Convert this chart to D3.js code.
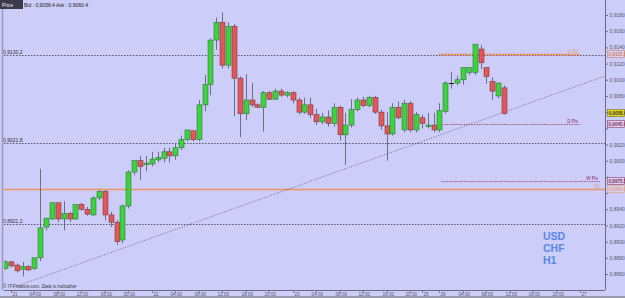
<!DOCTYPE html>
<html>
<head>
<meta charset="utf-8">
<script src="https://cdn.jsdelivr.net/npm/d3@7"></script>
<style>
  html, body { margin: 0; padding: 0; background: #cdcdf9; }
  svg { display: block; font-family: 'Liberation Sans', Arial, sans-serif; }
</style>
</head>
<body>
<svg id="chart" width="625" height="298"></svg>
<script>
// USDCHF H1 candles, bar 0 = 20th 23:00
const opens  = [0.8867,0.8875,0.8871,0.8866,0.8869,0.8867,0.8880,0.8918,0.8928,0.8948,0.8928,0.8935,0.8928,0.8946,0.8940,0.8933,0.8954,0.8962,0.8933,0.8924,0.8902,0.8944,0.8986,0.9000,0.8995,0.8996,0.9001,0.9003,0.9011,0.9006,0.9016,0.9026,0.9037,0.9026,0.9069,0.9094,0.9149,0.9171,0.9118,0.9166,0.9102,0.9058,0.9075,0.9069,0.9066,0.9084,0.9076,0.9086,0.9081,0.9084,0.9075,0.9060,0.9069,0.9057,0.9048,0.9054,0.9046,0.9066,0.9032,0.9044,0.9063,0.9075,0.9068,0.9078,0.9060,0.9043,0.9033,0.9066,0.9038,0.9071,0.9038,0.9053,0.9042,0.9044,0.9038,0.9061,0.9096,0.9096,0.9100,0.9109,0.9109,0.9138,0.9115,0.9098,0.9080,0.9090]
const highs  = [0.8877,0.8876,0.8873,0.8875,0.8871,0.8880,0.8990,0.8921,0.8935,0.8946,0.8950,0.8937,0.8944,0.8948,0.8943,0.8956,0.8964,0.8964,0.8937,0.8927,0.8946,0.8988,0.8997,0.9006,0.9006,0.9011,0.9011,0.9016,0.9016,0.9022,0.9031,0.9029,0.9031,0.9075,0.9106,0.9151,0.9177,0.9183,0.9171,0.9169,0.9104,0.9107,0.9096,0.9071,0.9086,0.9086,0.9089,0.9089,0.9086,0.9086,0.9078,0.9078,0.9078,0.9064,0.9059,0.9062,0.9071,0.9068,0.9059,0.9076,0.9078,0.9079,0.9080,0.9080,0.9063,0.9060,0.9071,0.9073,0.9075,0.9074,0.9060,0.9057,0.9059,0.9059,0.9071,0.9098,0.9110,0.9105,0.9112,0.9112,0.9141,0.9143,0.9112,0.9103,0.9093,0.9093]
const lows   = [0.8865,0.8868,0.8862,0.8857,0.8864,0.8865,0.8876,0.8914,0.8927,0.8924,0.8914,0.8924,0.8927,0.8938,0.8932,0.8932,0.8951,0.8926,0.8918,0.8896,0.8898,0.8941,0.8982,0.8976,0.8987,0.8993,0.8998,0.8998,0.8998,0.9001,0.9013,0.9024,0.9024,0.9024,0.9061,0.9081,0.9137,0.9114,0.9114,0.9055,0.9029,0.9050,0.9066,0.9066,0.9036,0.9075,0.9075,0.9079,0.9078,0.9071,0.9057,0.9058,0.9053,0.9044,0.9045,0.9042,0.9042,0.9025,0.8995,0.9041,0.9061,0.9066,0.9066,0.9058,0.9038,0.9000,0.9031,0.9051,0.9035,0.9035,0.9035,0.9040,0.9040,0.9035,0.9035,0.9058,0.9089,0.9093,0.9094,0.9106,0.9106,0.9113,0.9095,0.9075,0.9077,0.9057]
const closes = [0.8875,0.8870,0.8864,0.8869,0.8865,0.8880,0.8917,0.8929,0.8948,0.8928,0.8935,0.8928,0.8946,0.8940,0.8934,0.8954,0.8962,0.8933,0.8924,0.8900,0.8944,0.8986,0.9000,0.8993,0.8997,0.9002,0.9004,0.9011,0.9006,0.9016,0.9026,0.9038,0.9026,0.9069,0.9094,0.9149,0.9171,0.9118,0.9166,0.9102,0.9058,0.9075,0.9069,0.9066,0.9084,0.9076,0.9086,0.9081,0.9084,0.9075,0.9060,0.9069,0.9057,0.9048,0.9054,0.9046,0.9066,0.9032,0.9044,0.9063,0.9075,0.9068,0.9078,0.9060,0.9043,0.9033,0.9066,0.9053,0.9071,0.9038,0.9057,0.9046,0.9044,0.9038,0.9062,0.9096,0.9096,0.9100,0.9115,0.9115,0.9144,0.9121,0.9104,0.9086,0.9096,0.90584]

// right axis ticks
const priceTicks = d3.range(0.8860, 0.91801, 0.002)

// time axis: label and bar index (future bars continue the hourly spacing)
const timeLabels = ['21','04:00','08:00','12:00','16:00','20:00','22','04:00','08:00','12:00','16:00','20:00','23','04:00','08:00','12:00','16:00','20:00','25','26','04:00','08:00','12:00','16:00','20:00','27']
const timeBars   = [1,5,9,13,17,21,25,29,33,37,41,45,49,53,57,61,65,69,71,74,78,82,86,90,94,98]

// horizontal levels
const levelNames  = ['0,9130.2','0,9021.8','0,8921.2']
const levelPrices = [0.91302,0.90218,0.89212]
const pivotNames  = ['D Piv','W Piv']
const pivotPrices = [0.90454,0.89755]
const pivotStart  = [74,74]
const orangeNames  = ['D R2','S1']
const orangePrices = [0.91318,0.89650]
const orangeStart  = [74,0]

// trendline anchors (bar, price)
const trendBars   = [2,85]
const trendPrices = [0.88450,0.90600]

const bid = '0,9058.4'
const ask = '0,9060.4'

const W = 625, H = 298
const plotLeft = 4, plotRight = 605, plotTop = 0, plotBottom = 290

const svg = d3.select('#chart')

svg.append('rect')
  .attr('width', W).attr('height', H)
  .attr('fill', '#cdcdf9')

svg.append('rect')
  .attr('x', 0).attr('y', 296).attr('width', W).attr('height', 2)
  .attr('fill', '#9a9aae')

let x = d3.scaleLinear().domain([0, 85]).range([5, 504])
let y = d3.scaleLinear().domain([0.8860, 0.9180]).range([274, 15])

const fmt = v => d3.format('.4f')(v).replace('.', ',')
// price with pipette, e.g. 0,9045.4
const fmt5 = v => {
  let s = v.toFixed(5)
  return s.slice(0, 1) + ',' + s.slice(2, 6) + '.' + s.slice(6)
}

let plot = svg.append('g')
let clip = svg.append('clipPath').attr('id', 'plotclip')
clip.append('rect')
  .attr('x', plotLeft).attr('y', plotTop)
  .attr('width', plotRight - plotLeft).attr('height', plotBottom - plotTop)
plot.attr('clip-path', 'url(#plotclip)')

// dotted price levels across the chart
levelPrices.forEach((p, i) => {
  plot.append('line')
    .attr('x1', plotLeft).attr('x2', plotRight)
    .attr('y1', Math.round(y(p)) + 0.5).attr('y2', Math.round(y(p)) + 0.5)
    .attr('stroke', '#333348').attr('stroke-width', 0.8)
    .attr('stroke-dasharray', '1.5,1.5')
  svg.append('text')
    .attr('x', 3).attr('y', Math.round(y(p)) - 1.5)
    .attr('font-size', 5).attr('fill', '#333')
    .text(levelNames[i])
})

// orange levels
orangePrices.forEach((p, i) => {
  let xs = orangeStart[i] === 0 ? plotLeft : x(orangeStart[i]) - 1
  let xe = orangeStart[i] === 0 ? plotRight : 580
  plot.append('line')
    .attr('x1', xs).attr('x2', xe)
    .attr('y1', Math.round(y(p)) + 0.5).attr('y2', Math.round(y(p)) + 0.5)
    .attr('stroke', '#ee9460').attr('stroke-width', 1.4)
  svg.append('text')
    .attr('x', (orangeStart[i] === 0 ? 600 : 578)).attr('y', Math.round(y(p)) - 1.5)
    .attr('text-anchor', 'end')
    .attr('font-size', 4.5).attr('fill', '#e09a70')
    .text(orangeNames[i])
})

// pivot lines
pivotPrices.forEach((p, i) => {
  let xe = i === 0 ? 580 : 600
  plot.append('line')
    .attr('x1', x(pivotStart[i]) + 2).attr('x2', xe)
    .attr('y1', Math.round(y(p)) + 0.5).attr('y2', Math.round(y(p)) + 0.5)
    .attr('stroke', '#9a3a6a').attr('stroke-width', 0.8)
    .attr('stroke-dasharray', '1.5,1')
  svg.append('text')
    .attr('x', xe - 2).attr('y', Math.round(y(p)) - 1.5)
    .attr('text-anchor', 'end')
    .attr('font-size', 4.5).attr('fill', '#8a2a5a')
    .text(pivotNames[i])
})

// trendline
{
  let slope = (trendPrices[1] - trendPrices[0]) / (trendBars[1] - trendBars[0])
  let endBar = x.invert(plotRight)
  plot.append('line')
    .attr('x1', x(trendBars[0])).attr('y1', y(trendPrices[0]))
    .attr('x2', x(endBar)).attr('y2', y(trendPrices[0] + slope * (endBar - trendBars[0])))
    .attr('stroke', '#444466').attr('stroke-width', 0.7)
    .attr('stroke-dasharray', '1,1.5')
}

// candles
const bars = closes.map((c, i) => ({ i, o: opens[i], h: highs[i], l: lows[i], c }))
let candles = plot.append('g').selectAll('g')
  .data(bars)
  .join('g')

candles.append('line')
  .attr('x1', d => Math.round(x(d.i)) + 0.5)
  .attr('x2', d => Math.round(x(d.i)) + 0.5)
  .attr('y1', d => y(d.h))
  .attr('y2', d => y(d.l))
  .attr('stroke', '#55556a')
  .attr('stroke-width', 0.8)

candles.filter(d => Math.abs(d.c - d.o) > 0.00004).append('rect')
  .attr('x', d => Math.round(x(d.i)) - 2)
  .attr('width', 5)
  .attr('y', d => y(Math.max(d.o, d.c)))
  .attr('height', d => Math.max(1, Math.abs(y(d.o) - y(d.c))))
  .attr('fill', d => d.c >= d.o ? '#3fd23f' : '#e2585a')
  .attr('stroke', d => d.c >= d.o ? '#2e7a3a' : '#7a3a3e')
  .attr('stroke-width', 0.6)

candles.filter(d => Math.abs(d.c - d.o) <= 0.00004).append('line')
  .attr('x1', d => Math.round(x(d.i)) - 2)
  .attr('x2', d => Math.round(x(d.i)) + 3)
  .attr('y1', d => Math.round(y(d.c)) + 0.5)
  .attr('y2', d => Math.round(y(d.c)) + 0.5)
  .attr('stroke', '#111').attr('stroke-width', 1)

// frame lines
svg.append('line')
  .attr('x1', plotRight + 0.5).attr('x2', plotRight + 0.5)
  .attr('y1', 0).attr('y2', plotBottom)
  .attr('stroke', '#6a6a80').attr('stroke-width', 1)
svg.append('line')
  .attr('x1', plotLeft).attr('x2', plotRight)
  .attr('y1', plotBottom + 0.5).attr('y2', plotBottom + 0.5)
  .attr('stroke', '#6a6a80').attr('stroke-width', 1)
svg.append('line')
  .attr('x1', 2.5).attr('x2', 2.5)
  .attr('y1', 0).attr('y2', plotBottom)
  .attr('stroke', '#9999c0').attr('stroke-width', 1.5)

// price boxes on the right axis
const lastPrice = closes[closes.length - 1]
const boxes = [
  { p: orangePrices[0], fill: '#d8d0f0', stroke: '#d08060', color: '#d08060' },
  { p: lastPrice, fill: '#e8d820', stroke: '#6a6a20', color: '#333' },
  { p: pivotPrices[0], fill: '#d8d0f0', stroke: '#9a3a6a', color: '#8a2a5a' },
  { p: pivotPrices[1], fill: '#d8d0f0', stroke: '#9a3a6a', color: '#8a2a5a' },
  { p: orangePrices[1], fill: '#d8d0f0', stroke: '#e0a080', color: '#e0a080' }
]
const boxY = boxes.map(b => Math.round(y(b.p)))

// right price axis (labels hidden where a price box sits on top)
let yAxis = svg.append('g')
  .attr('transform', `translate(${plotRight + 0.5},0)`)
  .call(d3.axisRight(y).tickValues(priceTicks).tickSize(2.5).tickPadding(1.5).tickFormat(fmt))
yAxis.select('.domain').remove()
yAxis.selectAll('line').attr('stroke', '#6a6a80')
yAxis.selectAll('text')
  .attr('font-size', 5).attr('fill', '#55556a')
  .attr('font-family', "'Liberation Sans', Arial, sans-serif")
  .style('display', d => boxY.some(by => Math.abs(by - y(d)) < 6.5) ? 'none' : null)

// bottom time axis
let xAxis = svg.append('g')
timeBars.forEach((b, i) => {
  let tx = Math.round(x(b)) + 0.5
  xAxis.append('line')
    .attr('x1', tx).attr('x2', tx)
    .attr('y1', plotBottom).attr('y2', plotBottom + 3)
    .attr('stroke', '#6a6a80').attr('stroke-width', 0.8)
  xAxis.append('text')
    .attr('x', tx + (timeLabels[i].length > 2 ? -5 : 1)).attr('y', 295.5)
    .attr('font-size', 4.6).attr('fill', '#55556a')
    .text(timeLabels[i])
})

boxes.forEach((b, i) => {
  let by = boxY[i]
  svg.append('rect')
    .attr('x', 607.5).attr('y', by - 3.5)
    .attr('width', 17).attr('height', 7)
    .attr('fill', b.fill).attr('stroke', b.stroke).attr('stroke-width', 0.6)
  svg.append('text')
    .attr('x', 608.5).attr('y', by + 2)
    .attr('font-size', 4.6).attr('fill', b.color).attr('font-weight', 'bold')
    .text(fmt5(b.p))
})

// top-left header
svg.append('rect')
  .attr('x', 0).attr('y', 0).attr('width', 23).attr('height', 9)
  .attr('fill', '#3a3a4a')
svg.append('text')
  .attr('x', 2).attr('y', 6.5)
  .attr('font-size', 5).attr('fill', '#eee')
  .text('Price')
svg.append('text')
  .attr('x', 24).attr('y', 6.5)
  .attr('font-size', 5).attr('fill', '#222')
  .text(`Bid : ${bid} Ask : ${ask}`)

// footer note
svg.append('text')
  .attr('x', 3).attr('y', 288)
  .attr('font-size', 4.6).attr('font-style', 'italic').attr('fill', '#333')
  .text('© IT-Finance.com. Data is indicative')

// symbol caption
const caption = ['USD', 'CHF', 'H1']
caption.forEach((t, i) => {
  svg.append('text')
    .attr('x', 543).attr('y', 239.5 + i * 12)
    .attr('font-size', 10.5).attr('font-weight', 'bold')
    .attr('fill', '#5a86e6')
    .text(t)
})
</script>
</body>
</html>
